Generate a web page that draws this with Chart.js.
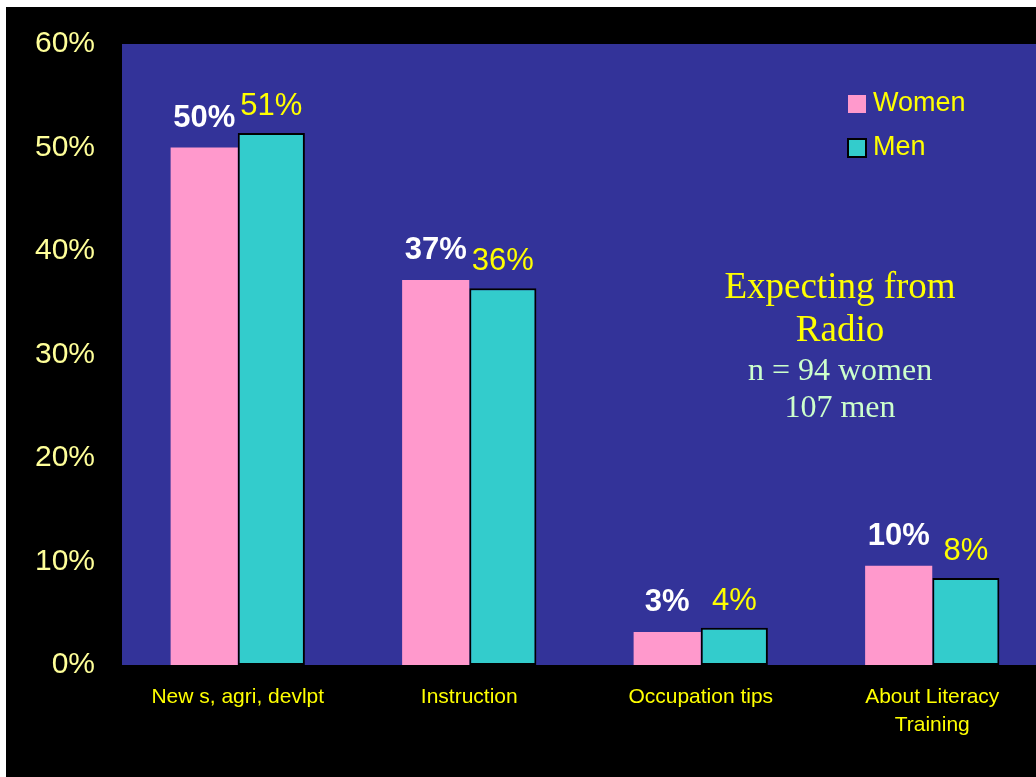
<!DOCTYPE html>
<html>
<head>
<meta charset="utf-8">
<script src="https://cdn.jsdelivr.net/npm/chart.js@4.4.0/dist/chart.umd.min.js"></script>
<style>
  html, body { margin: 0; padding: 0; background: #ffffff; overflow: hidden; }
  body { width: 1036px; height: 777px; position: relative; }
  #wrap { position: absolute; left: 6px; top: 7px; width: 1042px; height: 770px; background: #000000; overflow: hidden; }
  #radioChart { position: absolute; left: 0; top: -8px; }
</style>
</head>
<body>
<div id="wrap"><canvas id="radioChart" width="1042" height="778"></canvas></div>
<script>
// Dữ liệu biểu đồ
const categories = ['New s, agri, devlpt', 'Instruction', 'Occupation tips', ['About Literacy', 'Training']];
const womenValues = [50, 37.2, 3.2, 9.6];
const menValues = [51.4, 36.4, 3.6, 8.4];
const yTicks = [0, 10, 20, 30, 40, 50, 60];
const noteLines = ['Expecting from', 'Radio', 'n = 94 women', '107 men'];

// Nền xanh cho vùng vẽ
const plotBackground = {
    id: 'plotBackground',
    beforeDraw(chart) {
        const { ctx, chartArea: a } = chart;
        ctx.save();
        ctx.fillStyle = '#333399';
        ctx.fillRect(a.left, a.top, a.right - a.left, a.bottom - a.top);
        ctx.restore();
    },
};

// Nhãn giá trị trên cột, chú thích và ghi chú
const overlay = {
    id: 'overlay',
    afterDatasetsDraw(chart) {
        const ctx = chart.ctx;
        ctx.save();
        ctx.textAlign = 'center';
        ctx.textBaseline = 'alphabetic';
        chart.data.datasets.forEach((ds, i) => {
            const meta = chart.getDatasetMeta(i);
            ctx.font = (i === 0 ? 'bold ' : '') + '31px "Liberation Sans", Arial, sans-serif';
            ctx.fillStyle = i === 0 ? '#ffffff' : '#ffff00';
            meta.data.forEach((bar, j) => {
                ctx.fillText(Math.round(ds.data[j]) + '%', bar.x, bar.y - (i === 0 ? 21 : 18));
            });
        });

        // chú thích
        ctx.textAlign = 'left';
        ctx.textBaseline = 'middle';
        ctx.font = '27px "Liberation Sans", Arial, sans-serif';
        chart.data.datasets.forEach((ds, i) => {
            const x = 842, y = 105 + i * 44;
            ctx.fillStyle = ds.backgroundColor;
            ctx.fillRect(x, y - 9, 18, 18);
            if (i === 1) {
                ctx.strokeStyle = '#000000';
                ctx.lineWidth = 2;
                ctx.strokeRect(x, y - 9, 18, 18);
            }
            ctx.fillStyle = '#ffff00';
            ctx.fillText(ds.label, x + 25, y);
        });

        // ghi chú
        ctx.textAlign = 'center';
        ctx.textBaseline = 'alphabetic';
        ctx.font = '37px "Liberation Serif", "Times New Roman", serif';
        ctx.fillStyle = '#ffff00';
        ctx.fillText(noteLines[0], 834, 299);
        ctx.fillText(noteLines[1], 834, 342);
        ctx.font = '32px "Liberation Serif", "Times New Roman", serif';
        ctx.fillStyle = '#ccffcc';
        ctx.fillText(noteLines[2], 834, 381);
        ctx.fillText(noteLines[3], 834, 418);
        ctx.restore();
    },
};

const ctx = document.getElementById('radioChart').getContext('2d');
new Chart(ctx, {
    type: 'bar',
    data: {
        labels: categories,
        datasets: [
            {
                label: 'Women',
                data: womenValues,
                backgroundColor: '#ff99cc',
                borderWidth: 0,
            },
            {
                label: 'Men',
                data: menValues,
                backgroundColor: '#33cccc',
                borderColor: '#000000',
                borderWidth: 2,
                borderSkipped: false,
            },
        ],
    },
    options: {
        responsive: false,
        animation: false,
        devicePixelRatio: 1,
        layout: { padding: { top: 29, right: 0, left: 0, bottom: 0 } },
        datasets: { bar: { barPercentage: 1, categoryPercentage: 0.58 } },
        plugins: {
            legend: { display: false },
            tooltip: { enabled: false },
        },
        scales: {
            x: {
                grid: { display: false, drawTicks: false },
                border: { display: false },
                ticks: {
                    color: '#ffff00',
                    font: { family: '"Liberation Sans", Arial, sans-serif', size: 21, lineHeight: 1.33 },
                    padding: 18,
                    maxRotation: 0,
                    autoSkip: false,
                },
                afterFit(scale) { scale.height = 112; },
            },
            y: {
                min: 0,
                max: 60,
                afterBuildTicks(scale) { scale.ticks = yTicks.map(v => ({ value: v })); },
                grid: { display: false, drawTicks: false },
                border: { display: false },
                ticks: {
                    color: '#ffff99',
                    font: { family: '"Liberation Sans", Arial, sans-serif', size: 30 },
                    padding: 27,
                    callback: v => v + '%',
                },
                afterFit(scale) { scale.width = 116; },
            },
        },
    },
    plugins: [plotBackground, overlay],
});
</script>
</body>
</html>
